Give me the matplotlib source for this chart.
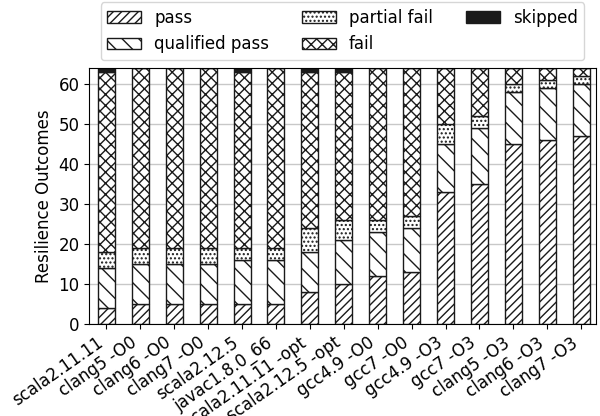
import matplotlib
matplotlib.use("Agg")
import matplotlib.pyplot as plt
import numpy as np

configs = [
    "scala2.11.11", "clang5 -O0", "clang6 -O0", "clang7 -O0", "scala2.12.5",
    "javac1.8.0_66", "scala2.11.11 -opt", "scala2.12.5 -opt", "gcc4.9 -O0",
    "gcc7 -O0", "gcc4.9 -O3", "gcc7 -O3", "clang5 -O3", "clang6 -O3", "clang7 -O3",
]
passed = [4, 5, 5, 5, 5, 5, 8, 10, 12, 13, 33, 35, 45, 46, 47]
qualified = [10, 10, 10, 10, 11, 11, 10, 11, 11, 11, 12, 14, 13, 13, 13]
partial = [4, 4, 4, 4, 3, 3, 6, 5, 3, 3, 5, 3, 2, 2, 2]
failed = [45, 45, 45, 45, 44, 45, 39, 37, 38, 37, 14, 12, 4, 3, 2]
skipped = [1, 0, 0, 0, 1, 0, 1, 1, 0, 0, 0, 0, 0, 0, 0]

series = [
    ("pass", passed, "////", "white"),
    ("qualified pass", qualified, "\\\\", "white"),
    ("partial fail", partial, "....", "white"),
    ("fail", failed, "xxx", "white"),
    ("skipped", skipped, "", "#1a1a1a"),
]

plt.rcParams["font.size"] = 12
plt.rcParams["hatch.linewidth"] = 1.0

fig, ax = plt.subplots(figsize=(6, 4.16), dpi=100)
fig.subplots_adjust(left=0.149, right=0.993, top=0.836, bottom=0.221)

x = np.arange(len(configs))
bottom = np.zeros(len(configs))
for name, vals, hatch, fc in series:
    ax.bar(x, vals, width=0.5, bottom=bottom, label=name, hatch=hatch,
           facecolor=fc, edgecolor="#1a1a1a", linewidth=1.0)
    bottom += np.array(vals)

ax.set_axisbelow(True)
ax.grid(True, color="#c8c8c8", linewidth=1.0)
ax.set_xlim(-0.5, 14.43)
ax.set_ylabel("Resilience Outcomes")
ax.set_xticks(x)
ax.set_xticklabels(configs, rotation=35, ha="right")

ax.legend(loc="lower center", bbox_to_anchor=(0.5, 1.0), ncol=3,
          columnspacing=2.0)

fig.savefig("out.png", dpi=100)
